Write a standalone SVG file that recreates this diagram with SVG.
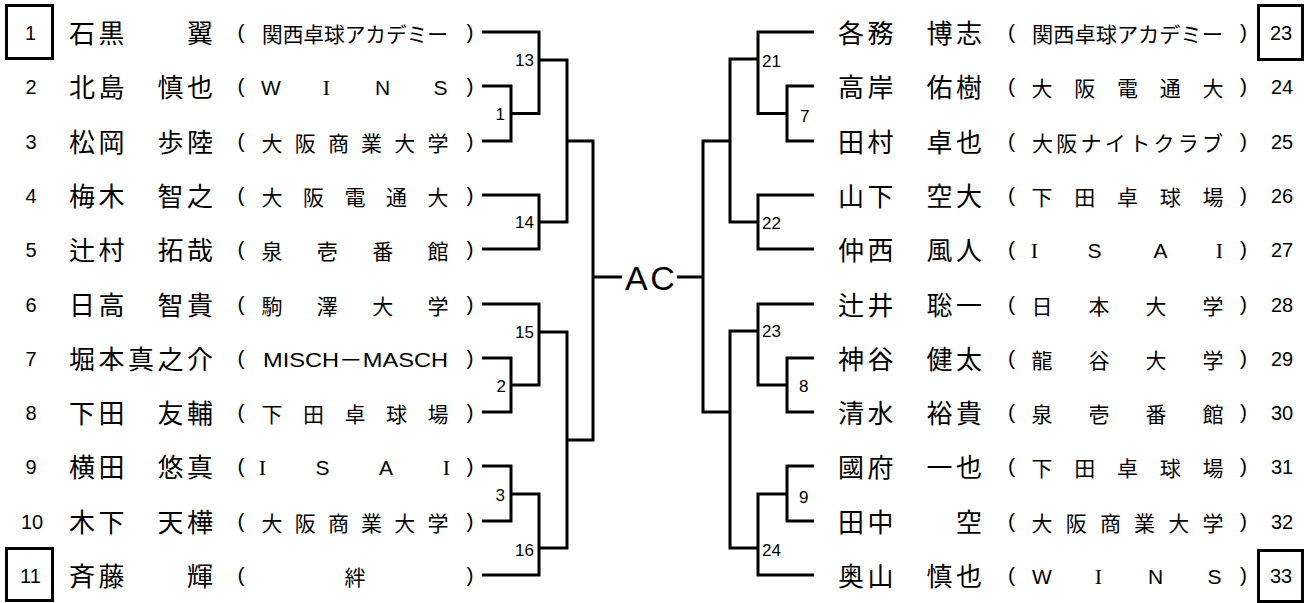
<svg xmlns="http://www.w3.org/2000/svg" width="1308" height="603" viewBox="0 0 1308 603">
<style>
.ln{fill:none;stroke:#000;stroke-width:3;stroke-linejoin:miter}
.box{fill:none;stroke:#000;stroke-width:3}
text{fill:#000}
.nm{font-family:"Noto Sans CJK JP",sans-serif;font-size:26px;text-anchor:middle}
.af{font-family:"Noto Sans CJK JP",sans-serif;font-size:21px;text-anchor:middle}
.afs{font-family:"Noto Sans CJK JP",sans-serif;font-size:21px}
.lat{font-family:"Liberation Sans","Noto Sans CJK JP",sans-serif;font-size:21px;text-anchor:middle}
.lati{font-family:"Liberation Serif",serif;font-size:22px;text-anchor:middle}
.par{font-family:"Liberation Sans",sans-serif;font-size:21px;text-anchor:middle}
.num{font-family:"Liberation Sans",sans-serif;font-size:20px;text-anchor:middle}
.lbl{font-family:"Liberation Sans",sans-serif;font-size:17px}
.lblr{font-family:"Liberation Sans",sans-serif;font-size:17px;text-anchor:end}
.ac{font-family:"Liberation Sans",sans-serif;font-size:34px;letter-spacing:2.6px}
</style>

<g id="connectors">
<path class="ln" d="M482,32 H539 V113.5 H511"/>
<path class="ln" d="M482,86 H511 V141 H482"/>
<path class="ln" d="M539,60 H567 V222 H539"/>
<path class="ln" d="M482,195 H539 V249 H482"/>
<path class="ln" d="M567,141 H593 V440 H567"/>
<path class="ln" d="M593,277 H622"/>
<path class="ln" d="M482,304 H539 V385 H511"/>
<path class="ln" d="M482,358 H511 V412 H482"/>
<path class="ln" d="M539,332 H567 V548 H539"/>
<path class="ln" d="M482,575 H539 V494 H511"/>
<path class="ln" d="M482,466 H511 V521 H482"/>

<path class="ln" d="M814,32 H758 V113.5 H787"/>
<path class="ln" d="M814,86 H787 V141 H814"/>
<path class="ln" d="M758,59 H730 V222 H758"/>
<path class="ln" d="M814,195 H758 V249 H814"/>
<path class="ln" d="M730,141 H703 V412 H730"/>
<path class="ln" d="M703,277 H677"/>
<path class="ln" d="M814,304 H758 V385 H787"/>
<path class="ln" d="M814,358 H787 V412 H814"/>
<path class="ln" d="M758,331 H730 V548 H758"/>
<path class="ln" d="M814,575 H758 V494 H787"/>
<path class="ln" d="M814,466 H787 V521 H814"/>
</g>

<g id="match-labels">
<text class="lblr" x="534" y="66">13</text>
<text class="lblr" x="505" y="120">1</text>
<text class="lblr" x="534" y="228">14</text>
<text class="lblr" x="534" y="337.5">15</text>
<text class="lblr" x="506" y="391.5">2</text>
<text class="lblr" x="505" y="500.5">3</text>
<text class="lblr" x="534" y="555.5">16</text>
<text class="lbl" x="762" y="67">21</text>
<text class="lbl" x="800" y="121.5">7</text>
<text class="lbl" x="762" y="229">22</text>
<text class="lbl" x="762" y="337">23</text>
<text class="lbl" x="799" y="392">8</text>
<text class="lbl" x="799" y="503">9</text>
<text class="lbl" x="762" y="556">24</text>
</g>

<g id="final">
<text class="ac" x="625" y="290">AC</text>
</g>

<!-- Left side -->
<g id="p1">
<rect class="box" x="6.5" y="5.5" width="46" height="53"/>
<text class="num" x="30.5" y="39.5">1</text>
<text class="nm" x="82 111.5" y="43">石黒</text>
<text class="nm" x="200" y="43">翼</text>
<text class="par" x="241" y="38.5">(</text>
<text class="afs" x="262" y="41.5" textLength="186" lengthAdjust="spacingAndGlyphs">関西卓球アカデミー</text>
<text class="par" x="470" y="38.5">)</text>
</g>
<g id="p2">
<text class="num" x="31" y="93.5">2</text>
<text class="nm" x="82 111.5 170.5 200" y="97">北島慎也</text>
<text class="par" x="241" y="92.5">(</text>
<text class="lat" x="271" y="95">W</text>
<text class="lati" x="326.5" y="95">I</text>
<text class="lat" x="382.5 440.5" y="95">NS</text>
<text class="par" x="470" y="92.5">)</text>
</g>
<g id="p3">
<text class="num" x="31" y="148.5">3</text>
<text class="nm" x="82 111.5 170.5 200" y="152">松岡歩陸</text>
<text class="par" x="241" y="147.5">(</text>
<text class="af" x="272 305.2 338.4 371.6 404.8 438" y="150.5">大阪商業大学</text>
<text class="par" x="470" y="147.5">)</text>
</g>
<g id="p4">
<text class="num" x="31" y="202.5">4</text>
<text class="nm" x="82 111.5 170.5 200" y="206">梅木智之</text>
<text class="par" x="241" y="201.5">(</text>
<text class="af" x="272 313.5 355 396.5 438" y="204.5">大阪電通大</text>
<text class="par" x="470" y="201.5">)</text>
</g>
<g id="p5">
<text class="num" x="31" y="256.5">5</text>
<text class="nm" x="82 111.5 170.5 200" y="260">辻村拓哉</text>
<text class="par" x="241" y="255.5">(</text>
<text class="af" x="272 327.3 382.7 438" y="258.5">泉壱番館</text>
<text class="par" x="470" y="255.5">)</text>
</g>
<g id="p6">
<text class="num" x="31" y="311.5">6</text>
<text class="nm" x="82 111.5 170.5 200" y="315">日高智貴</text>
<text class="par" x="241" y="310.5">(</text>
<text class="af" x="272 327.3 382.7 438" y="313.5">駒澤大学</text>
<text class="par" x="470" y="310.5">)</text>
</g>
<g id="p7">
<text class="num" x="31" y="365.5">7</text>
<text class="nm" x="82 111.5 141 170.5 200" y="369">堀本真之介</text>
<text class="par" x="241" y="364.5">(</text>
<text class="lat" style="text-anchor:start" x="263" y="367" textLength="185" lengthAdjust="spacingAndGlyphs">MISCH－MASCH</text>
<text class="par" x="470" y="364.5">)</text>
</g>
<g id="p8">
<text class="num" x="31" y="419.5">8</text>
<text class="nm" x="82 111.5 170.5 200" y="423">下田友輔</text>
<text class="par" x="241" y="418.5">(</text>
<text class="af" x="272 313.5 355 396.5 438" y="421.5">下田卓球場</text>
<text class="par" x="470" y="418.5">)</text>
</g>
<g id="p9">
<text class="num" x="31" y="473.5">9</text>
<text class="nm" x="82 111.5 170.5 200" y="477">横田悠真</text>
<text class="par" x="241" y="472.5">(</text>
<text class="lati" x="262.5" y="475">I</text>
<text class="lat" x="322.5 386" y="475">SA</text>
<text class="lati" x="446.5" y="475">I</text>
<text class="par" x="470" y="472.5">)</text>
</g>
<g id="p10">
<text class="num" x="32" y="528.5">10</text>
<text class="nm" x="82 111.5 170.5 200" y="532">木下天樺</text>
<text class="par" x="241" y="527.5">(</text>
<text class="af" x="272 305.2 338.4 371.6 404.8 438" y="530.5">大阪商業大学</text>
<text class="par" x="470" y="527.5">)</text>
</g>
<g id="p11">
<rect class="box" x="6.5" y="548.5" width="46" height="52"/>
<text class="num" x="30.5" y="582.5">11</text>
<text class="nm" x="82 111.5" y="586">斉藤</text>
<text class="nm" x="200" y="586">輝</text>
<text class="par" x="241" y="581.5">(</text>
<text class="af" x="355" y="584.5">絆</text>
<text class="par" x="470" y="581.5">)</text>
</g>

<!-- Right side -->
<g id="p23">
<text class="nm" x="851 880.5 939.5 969" y="43">各務博志</text>
<text class="par" x="1011.5" y="38.5">(</text>
<text class="afs" x="1032" y="41.5" textLength="191" lengthAdjust="spacingAndGlyphs">関西卓球アカデミー</text>
<text class="par" x="1243.5" y="38.5">)</text>
<rect class="box" x="1258.5" y="5.5" width="44" height="54"/>
<text class="num" x="1281" y="39.5">23</text>
</g>
<g id="p24">
<text class="nm" x="851 880.5 939.5 969" y="97">高岸佑樹</text>
<text class="par" x="1011.5" y="92.5">(</text>
<text class="af" x="1042 1084.75 1127.5 1170.25 1213" y="95.5">大阪電通大</text>
<text class="par" x="1243.5" y="92.5">)</text>
<text class="num" x="1282" y="93.5">24</text>
</g>
<g id="p25">
<text class="nm" x="851 880.5 939.5 969" y="152">田村卓也</text>
<text class="par" x="1011.5" y="147.5">(</text>
<text class="afs" x="1032" y="150.5" textLength="191" lengthAdjust="spacing">大阪ナイトクラブ</text>
<text class="par" x="1243.5" y="147.5">)</text>
<text class="num" x="1282" y="148.5">25</text>
</g>
<g id="p26">
<text class="nm" x="851 880.5 939.5 969" y="206">山下空大</text>
<text class="par" x="1011.5" y="201.5">(</text>
<text class="af" x="1042 1084.75 1127.5 1170.25 1213" y="204.5">下田卓球場</text>
<text class="par" x="1243.5" y="201.5">)</text>
<text class="num" x="1282" y="202.5">26</text>
</g>
<g id="p27">
<text class="nm" x="851 880.5 939.5 969" y="260">仲西風人</text>
<text class="par" x="1011.5" y="255.5">(</text>
<text class="lati" x="1034.5" y="258">I</text>
<text class="lat" x="1094.5 1160.5" y="258">SA</text>
<text class="lati" x="1219.5" y="258">I</text>
<text class="par" x="1243.5" y="255.5">)</text>
<text class="num" x="1282" y="256.5">27</text>
</g>
<g id="p28">
<text class="nm" x="851 880.5 939.5 969" y="315">辻井聡一</text>
<text class="par" x="1011.5" y="310.5">(</text>
<text class="af" x="1042 1099 1156 1213" y="313.5">日本大学</text>
<text class="par" x="1243.5" y="310.5">)</text>
<text class="num" x="1282" y="311.5">28</text>
</g>
<g id="p29">
<text class="nm" x="851 880.5 939.5 969" y="369">神谷健太</text>
<text class="par" x="1011.5" y="364.5">(</text>
<text class="af" x="1042 1099 1156 1213" y="367.5">龍谷大学</text>
<text class="par" x="1243.5" y="364.5">)</text>
<text class="num" x="1282" y="365.5">29</text>
</g>
<g id="p30">
<text class="nm" x="851 880.5 939.5 969" y="423">清水裕貴</text>
<text class="par" x="1011.5" y="418.5">(</text>
<text class="af" x="1042 1099 1156 1213" y="421.5">泉壱番館</text>
<text class="par" x="1243.5" y="418.5">)</text>
<text class="num" x="1282" y="419.5">30</text>
</g>
<g id="p31">
<text class="nm" x="851 880.5 939.5 969" y="477">國府一也</text>
<text class="par" x="1011.5" y="472.5">(</text>
<text class="af" x="1042 1084.75 1127.5 1170.25 1213" y="475.5">下田卓球場</text>
<text class="par" x="1243.5" y="472.5">)</text>
<text class="num" x="1282" y="473.5">31</text>
</g>
<g id="p32">
<text class="nm" x="851 880.5" y="532">田中</text>
<text class="nm" x="969" y="532">空</text>
<text class="par" x="1011.5" y="527.5">(</text>
<text class="af" x="1042 1076.2 1110.4 1144.6 1178.8 1213" y="530.5">大阪商業大学</text>
<text class="par" x="1243.5" y="527.5">)</text>
<text class="num" x="1282" y="528.5">32</text>
</g>
<g id="p33">
<text class="nm" x="851 880.5 939.5 969" y="586">奥山慎也</text>
<text class="par" x="1011.5" y="581.5">(</text>
<text class="lat" x="1042" y="584">W</text>
<text class="lati" x="1098.5" y="584">I</text>
<text class="lat" x="1155.5 1214.5" y="584">NS</text>
<text class="par" x="1243.5" y="581.5">)</text>
<rect class="box" x="1258.5" y="550.5" width="44" height="51"/>
<text class="num" x="1281" y="582.5">33</text>
</g>
</svg>
